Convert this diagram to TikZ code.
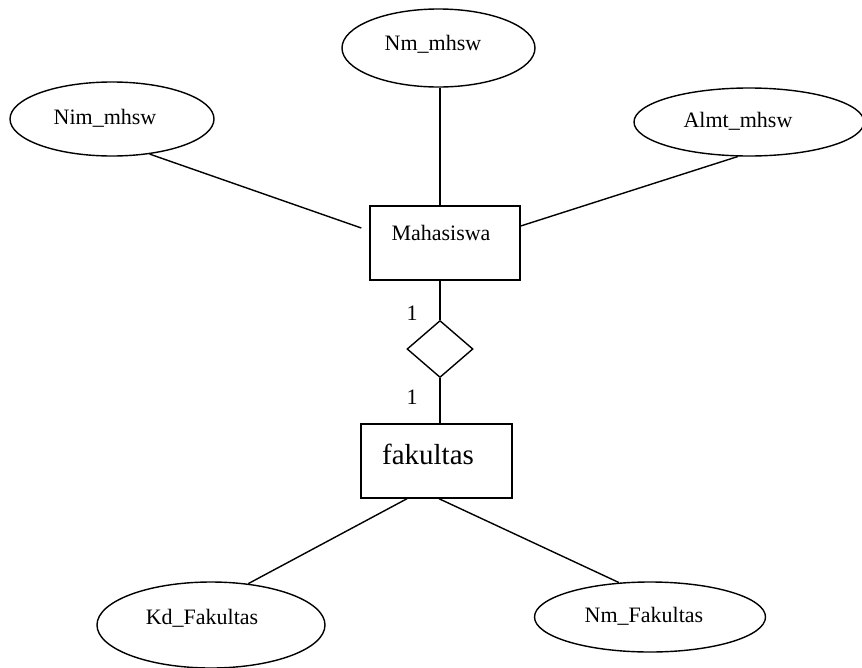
\documentclass[tikz,border=0pt]{standalone}
\usepackage{fontspec}
\setmainfont{Liberation Serif}
\usetikzlibrary{shapes.geometric}
\begin{document}
\begin{tikzpicture}[x=1pt,y=-1pt,
  lw/.style={line width=1.4pt},
  attr/.style={draw,lw,ellipse,inner sep=0pt},
  ent/.style={draw,lw,rectangle,inner sep=0pt},
  rel/.style={draw,lw,diamond,inner sep=0pt,minimum width=66pt,minimum height=57pt},
  txt/.style={inner sep=0pt,font=\fontsize{22}{26}\selectfont},
  bigtxt/.style={inner sep=0pt,font=\fontsize{29}{34}\selectfont},
  conn/.style={lw}]
\useasboundingbox (0,0) rectangle (862,667);
% attributes
\node[attr,minimum width=204pt,minimum height=74pt] (nim) at (112,119) {};
\node[txt] (nimT) at (105,118) {Nim\_mhsw};
\node[attr,minimum width=193pt,minimum height=78pt] (nm) at (438.5,48) {};
\node[txt] (nmT) at (433,44) {Nm\_mhsw};
\node[attr,minimum width=230pt,minimum height=68pt] (almt) at (749,122) {};
\node[txt] (almtT) at (738,121) {Almt\_mhsw};
% entity Mahasiswa
\node[ent,minimum width=150pt,minimum height=74pt] (mhs) at (445,243) {};
\node[txt] (mhsT) at (441,233) {Mahasiswa};
% relationship
\node[rel] (dia) at (440,349) {};
\node[txt] (one1) at (412,313) {1};
\node[txt] (one2) at (412,397) {1};
% entity fakultas
\node[ent,minimum width=151pt,minimum height=74pt] (fak) at (436.5,461) {};
\node[bigtxt] (fakT) at (428,454) {fakultas};
% attributes of fakultas
\node[attr,minimum width=228pt,minimum height=86pt] (kd) at (211,625) {};
\node[txt] (kdT) at (202,618) {Kd\_Fakultas};
\node[attr,minimum width=231pt,minimum height=70pt] (nmf) at (650,617) {};
\node[txt] (nmfT) at (644,616) {Nm\_Fakultas};
% connectors
\draw[conn] (nim.-43) -- ([xshift=-8pt,yshift=15pt]mhs.west);
\draw[conn] (nm.south -| 440,0) -- (mhs.north -| 440,0);
\draw[conn] (almt.-108) -- ([yshift=17pt]mhs.east);
\draw[conn] (dia.north) -- (dia.north |- mhs.south);
\draw[conn] (dia.south) -- (dia.south |- fak.north);
\draw[conn] ([xshift=-29.5pt]fak.south) -- (kd.48);
\draw[conn] ([xshift=2.5pt]fak.south) -- (nmf.132);
\end{tikzpicture}
\end{document}
